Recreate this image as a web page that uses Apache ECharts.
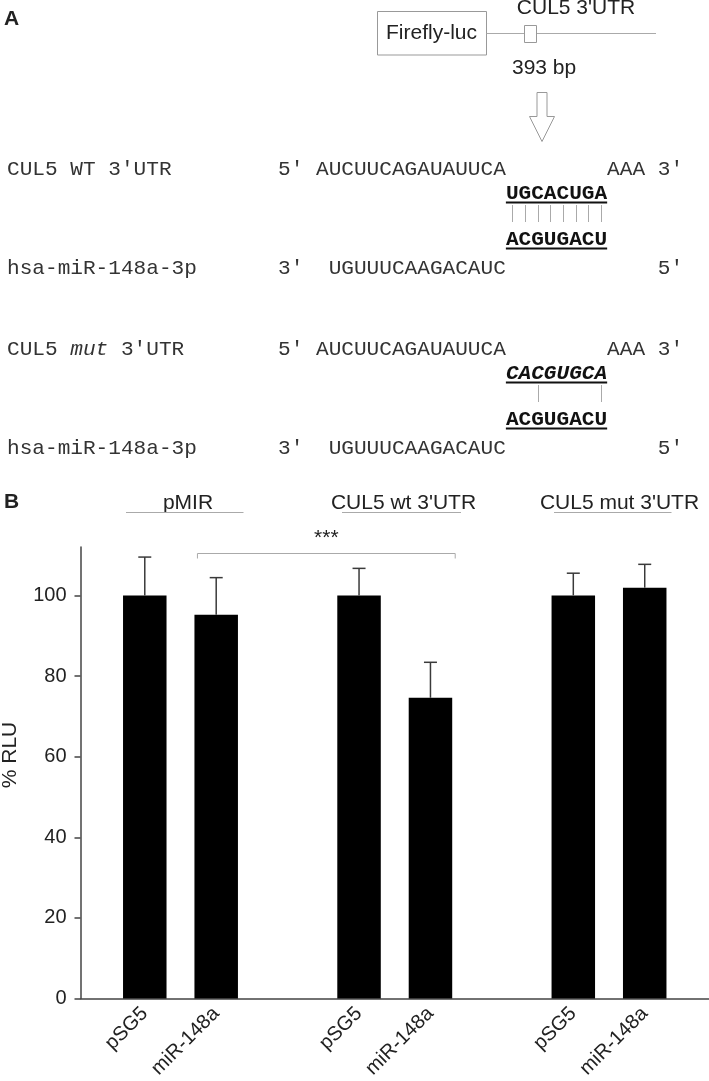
<!DOCTYPE html>
<html>
<head>
<meta charset="utf-8">
<script src="https://cdn.jsdelivr.net/npm/echarts@6/dist/echarts.min.js"></script>
<style>
  html, body { margin: 0; padding: 0; background: #fff; }
  #chart { width: 709px; height: 1081px; }
</style>
</head>
<body>
<div id="chart"></div>
<script>
// ---- data ----
var groups = ['pMIR', "CUL5 wt 3'UTR", "CUL5 mut 3'UTR"];
var categories = ['pSG5', 'miR-148a'];
var rlu = [100, 95.2, 100, 74.6, 100, 101.9];
var sd = [9.5, 9.2, 6.7, 8.8, 5.5, 5.8];
var yTicks = [0, 20, 40, 60, 80, 100];
var sig = [[1, 3, '***']];

// sequences (panel A)
var utrSeq = "5' AUCUUCAGAUAUUCA        AAA 3'";
var mirSeq = "3'  UGUUUCAAGACAUC            5'";
var seedWt = 'UGCACUGA';
var seedMut = 'CACGUGCA';
var mirSeed = 'ACGUGACU';
var pairsWt = [0, 1, 2, 3, 4, 5, 6, 7];
var pairsMut = [2, 7];

// ---- layout helpers ----
var sans = 'Liberation Sans';
var mono = 'Liberation Mono';
var monoSize = 21.1;
var pitch = monoSize * 0.6;
var seqX = 278;
var seedX = seqX + 18 * pitch;
var barW = 43.5;

function pos(i) { return 9 + Math.floor(i / 2) * 30 + (i % 2) * 10; }
var xPos = rlu.map(function (v, i) { return pos(i); });

function text(x, y, s, o) {
  o = o || {};
  return {
    type: 'text', x: x, y: y, silent: true,
    style: {
      text: s,
      font: (o.style || 'normal') + ' ' + (o.weight || 'normal') + ' ' + (o.size || 21) + 'px "' + (o.family || sans) + '"',
      fill: o.color || '#222',
      textAlign: o.align || 'left',
      textVerticalAlign: 'middle'
    }
  };
}
function line(x1, y1, x2, y2, color, w) {
  return { type: 'line', silent: true, shape: { x1: x1, y1: y1, x2: x2, y2: y2 },
    style: { stroke: color || '#999', lineWidth: w || 1 } };
}

var g = [];
// panel A header diagram
g.push(text(4, 19, 'A', { weight: 'bold', size: 21 }));
g.push({ type: 'rect', silent: true, shape: { x: 377.5, y: 11.5, width: 109, height: 43.5 },
  style: { fill: '#fff', stroke: '#999', lineWidth: 1 } });
g.push(text(431.5, 33.5, 'Firefly-luc', { align: 'center' }));
g.push(line(486.5, 33.5, 656, 33.5, '#aaa'));
g.push({ type: 'rect', silent: true, shape: { x: 524.5, y: 25.5, width: 12, height: 17 },
  style: { fill: '#fff', stroke: '#999', lineWidth: 1 } });
g.push(text(576, 8, "CUL5 3'UTR", { align: 'center' }));
g.push(text(512, 68, '393 bp'));
g.push({ type: 'polygon', silent: true,
  shape: { points: [[537, 92.5], [547, 92.5], [547, 116.5], [554.5, 116.5], [542, 141.5], [529.5, 116.5], [537, 116.5]] },
  style: { fill: '#fff', stroke: '#999', lineWidth: 1 } });

function block(y0, labelParts, seed, pairs, italicSeed) {
  var mo = { family: mono, size: monoSize, color: '#333' };
  var lx = 7;
  labelParts.forEach(function (p) {
    g.push(text(lx, y0, p[0], { family: mono, size: monoSize, color: '#333', style: p[1] ? 'italic' : 'normal' }));
    lx += p[0].length * pitch;
  });
  g.push(text(seqX, y0, utrSeq, mo));
  g.push(text(seedX, y0 + 25, seed, { family: mono, size: monoSize, color: '#111', weight: 'bold', style: italicSeed ? 'italic' : 'normal' }));
  g.push(line(seedX, y0 + 33.5, seedX + 8 * pitch, y0 + 33.5, '#111', 2));
  pairs.forEach(function (k) {
    var x = Math.round(seedX + (k + 0.5) * pitch) + 0.5;
    g.push(line(x, y0 + 36, x, y0 + 53, '#aaa', 1));
  });
  g.push(text(seedX, y0 + 71, mirSeed, { family: mono, size: monoSize, color: '#111', weight: 'bold' }));
  g.push(line(seedX, y0 + 79.5, seedX + 8 * pitch, y0 + 79.5, '#111', 2));
  g.push(text(7, y0 + 99.5, 'hsa-miR-148a-3p', mo));
  g.push(text(seqX, y0 + 99.5, mirSeq, mo));
}
block(169, [["CUL5 WT 3'UTR", false]], seedWt, pairsWt, false);
block(349, [['CUL5 ', false], ['mut', true], [" 3'UTR", false]], seedMut, pairsMut, true);

// panel B headers
g.push(text(4, 502.5, 'B', { weight: 'bold', size: 21 }));
var headX = [188, 403.5, 619.5];
var headLine = [[126, 243.5], [342, 461], [554, 671.5]];
groups.forEach(function (name, i) {
  g.push(text(headX[i], 503.5, name, { align: 'center' }));
  g.push(line(headLine[i][0], 512.5, headLine[i][1], 512.5, '#aaa', 1));
});
g.push({ type: 'text', silent: true, x: 10, y: 755, rotation: Math.PI / 2,
  style: { text: '% RLU', font: 'normal 21px "Liberation Sans"', fill: '#222',
    textAlign: 'center', textVerticalAlign: 'middle' } });

var chart = echarts.init(document.getElementById('chart'), null, { renderer: 'canvas' });
chart.setOption({
  backgroundColor: '#fff',
  animation: false,
  graphic: { elements: g },
  grid: { left: 80.5, right: 0, top: 547, bottom: 82, containLabel: false },
  xAxis: {
    type: 'value', min: 0, max: 88,
    splitLine: { show: false },
    axisTick: { show: false },
    axisLine: { lineStyle: { color: '#444', width: 1.5 } },
    axisLabel: {
      customValues: xPos,
      formatter: function (v) {
        var i = xPos.indexOf(v);
        return i < 0 ? '' : categories[i % 2];
      },
      rotate: 45, margin: 12, fontSize: 20, color: '#222', fontFamily: sans
    }
  },
  yAxis: {
    type: 'value', min: 0, max: 112, interval: 20,
    splitLine: { show: false },
    axisLine: { show: true, lineStyle: { color: '#444', width: 1.5 } },
    axisTick: { show: true, length: 6, customValues: yTicks, lineStyle: { color: '#444', width: 1.5 } },
    axisLabel: { customValues: yTicks, fontSize: 20, margin: 14, color: '#222', fontFamily: sans }
  },
  series: [
    {
      type: 'bar',
      data: rlu.map(function (v, i) { return [xPos[i], v]; }),
      barWidth: barW,
      itemStyle: { color: '#000' },
      z: 2
    },
    {
      type: 'custom',
      z: 3,
      data: rlu.map(function (v, i) { return [xPos[i], v + sd[i], v]; }),
      encode: { x: 0, y: 1 },
      renderItem: function (params, api) {
        var top = api.coord([api.value(0), api.value(1)]);
        var base = api.coord([api.value(0), api.value(2)]);
        var st = { stroke: '#3a3a3a', lineWidth: 1.5 };
        return { type: 'group', children: [
          { type: 'line', shape: { x1: top[0], y1: top[1], x2: base[0], y2: base[1] }, style: st },
          { type: 'line', shape: { x1: top[0] - 6.5, y1: top[1], x2: top[0] + 6.5, y2: top[1] }, style: st }
        ] };
      }
    },
    {
      type: 'custom',
      z: 3,
      clip: false,
      data: sig.map(function (s) {
        var hi = 0;
        for (var k = s[0]; k <= s[1]; k++) hi = Math.max(hi, rlu[k] + sd[k]);
        return [xPos[s[0]], xPos[s[1]], hi + 3.8];
      }),
      encode: { x: [0, 1], y: 2 },
      renderItem: function (params, api) {
        var a = api.coord([api.value(0), api.value(2)]);
        var b = api.coord([api.value(1), api.value(2)]);
        var l = a[0] - barW / 2 + 3, r = b[0] + barW / 2 + 3, y = Math.round(a[1]) + 0.5;
        return { type: 'group', children: [
          { type: 'polyline', shape: { points: [[l, y + 5], [l, y], [r, y], [r, y + 5]] },
            style: { stroke: '#aaa', lineWidth: 1, fill: null } },
          { type: 'text', x: (l + r) / 2, y: y - 15,
            style: { text: sig[params.dataIndex][2], font: 'normal 21px "Liberation Sans"', fill: '#222',
              textAlign: 'center', textVerticalAlign: 'middle' } }
        ] };
      }
    }
  ]
});
</script>
</body>
</html>
